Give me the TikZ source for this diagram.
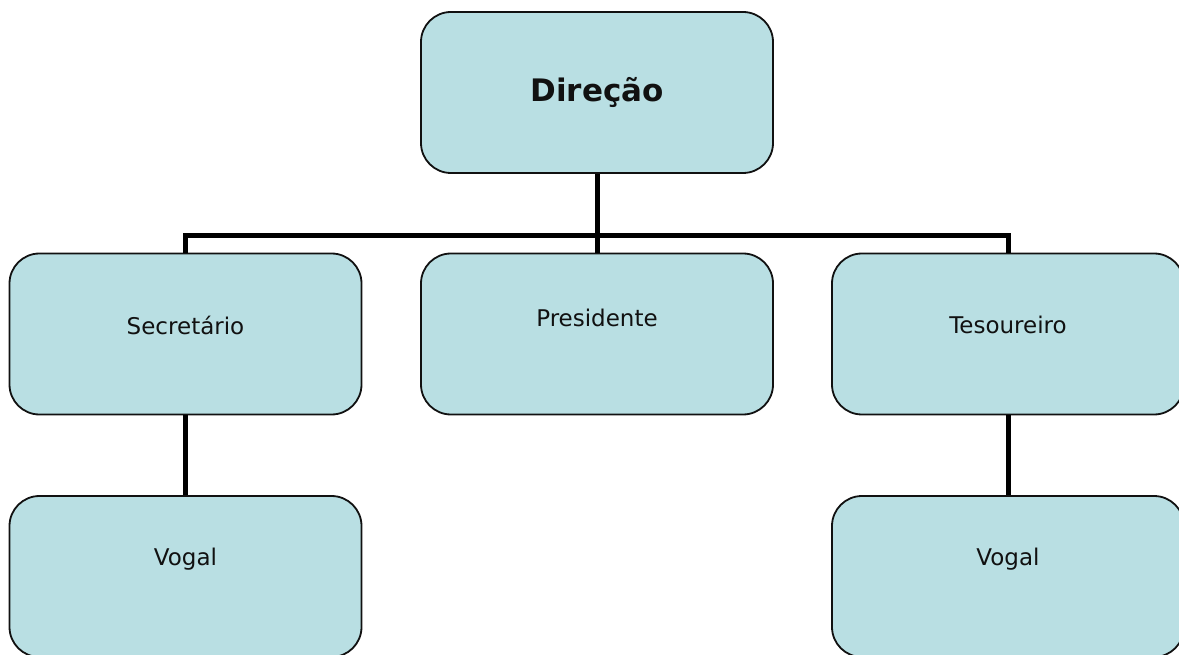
\documentclass[tikz,border=0pt]{standalone}
\usepackage{fontspec}
\setmainfont{DejaVu Sans}
\usetikzlibrary{positioning, calc}
\definecolor{boxfill}{HTML}{B9DFE3}
\definecolor{ink}{HTML}{111111}

\begin{document}
\begin{tikzpicture}[
  x=1pt, y=-1pt,
  box/.style={draw=ink, line width=1.8pt, fill=boxfill, rounded corners=30pt,
    minimum width=352pt, minimum height=161pt, inner sep=0pt},
  lbl/.style={font=\fontsize{23}{26}\selectfont, text=ink, inner sep=0pt},
  conn/.style={draw=black, line width=5pt},
]

% Canvas
\useasboundingbox (0,0) rectangle (1179,655);
\clip (0,0) rectangle (1179,655);

% =============================================
% Top: Direção
% =============================================
\node[box] (dir) at (597,92.5) {};
\node[lbl, font=\fontsize{31}{34}\selectfont\bfseries] (dirT) at (dir.center) {Direção};

% =============================================
% Middle row
% =============================================
\node[box] (sec) at (185.5,334) {};
\node[lbl] (secT) at ([yshift=9pt]sec.center) {Secretário};

\node[box] (pres) at (597,334) {};
\node[lbl] (presT) at ([yshift=16pt]pres.center) {Presidente};

\node[box] (tes) at (1008,334) {};
\node[lbl] (tesT) at ([yshift=9pt]tes.center) {Tesoureiro};

% =============================================
% Bottom row
% =============================================
\node[box] (vog1) at (185.5,576.5) {};
\node[lbl] (vog1T) at ([yshift=17pt]vog1.center) {Vogal};

\node[box] (vog2) at (1008,576.5) {};
\node[lbl] (vog2T) at ([yshift=17pt]vog2.center) {Vogal};

% Connectors
\coordinate (bus) at (597,236);
\draw[conn] (dir.south) -- (bus);
\draw[conn] (sec.north) |- (bus) -| (tes.north);
\draw[conn] (bus) -- (pres.north);
\draw[conn] (sec.south) -- (vog1.north);
\draw[conn] (tes.south) -- (vog2.north);

\end{tikzpicture}
\end{document}
